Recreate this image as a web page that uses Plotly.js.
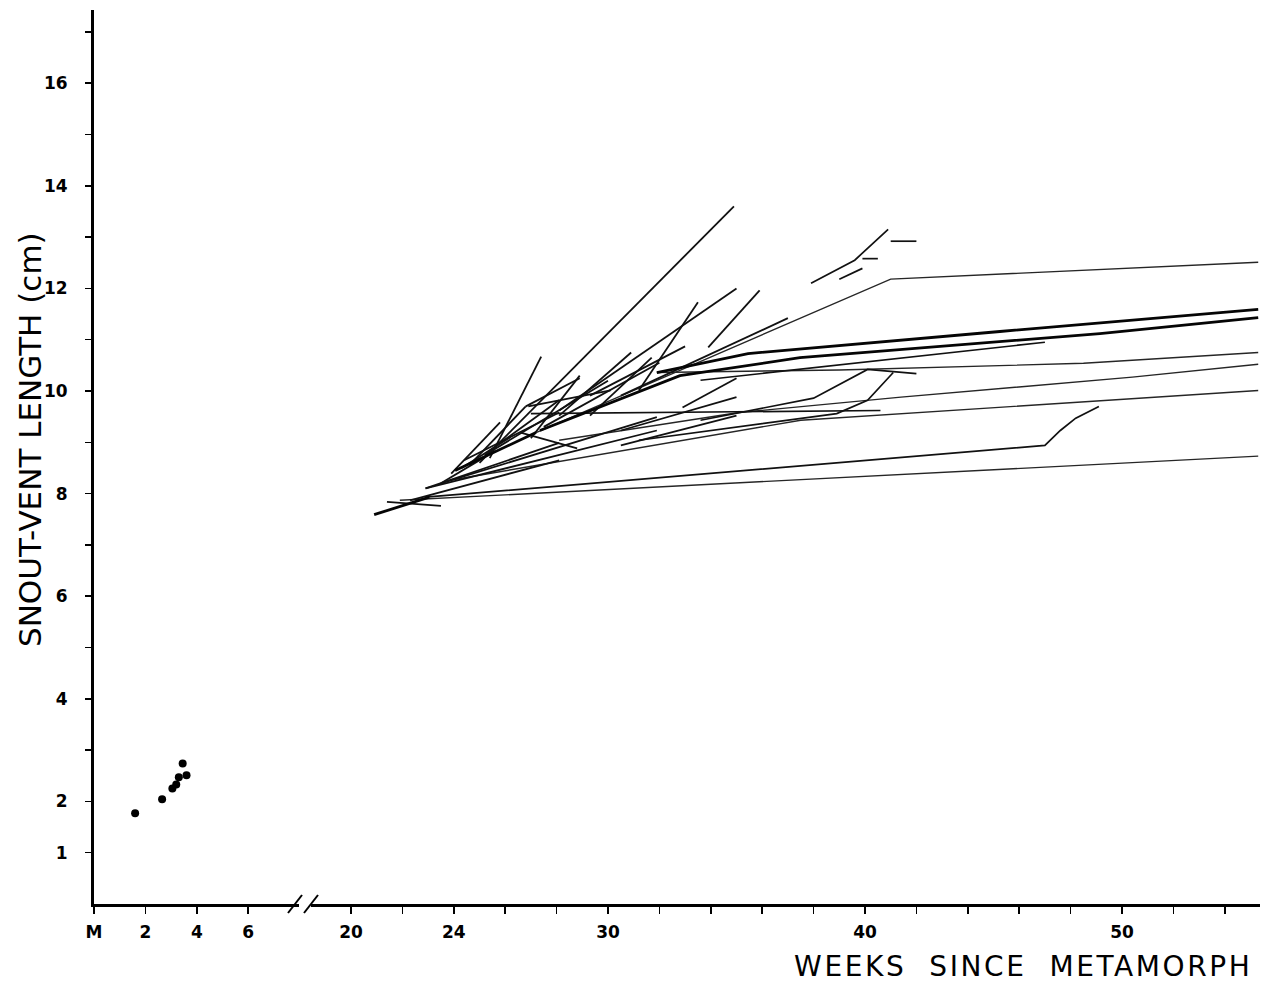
<!DOCTYPE html>
<html>
<head>
<meta charset="utf-8">
<script src="https://cdn.plot.ly/plotly-3.0.1.min.js"></script>
<style>
  html, body { margin: 0; padding: 0; background: #fff; }
  #chart { width: 1271px; height: 984px; }
</style>
</head>
<body>
<div id="chart"></div>
<script>
// Snout-vent length (cm) against weeks since metamorphosis.
// The week axis is broken between 8 and 20 weeks.

// Juveniles measured in the first weeks after metamorphosis
const juvenileWeeks = [1.6, 2.65, 3.05, 3.2, 3.3, 3.45, 3.6];
const juvenileSVL   = [1.77, 2.04, 2.25, 2.33, 2.47, 2.74, 2.51];

// Individuals followed to the end of the record (about week 55)
const longWeeks = [
  [27.2, 41.0, 55.3],
  [31.9, 39.0, 48.5, 55.3],
  [28.1, 35.1, 41.4, 50.4, 55.3],
  [23.85, 37.5, 55.3],
  [21.9, 55.3]
];
const longSVL = [
  [9.19, 12.18, 12.51],
  [10.36, 10.41, 10.54, 10.75],
  [9.04, 9.58, 9.88, 10.27, 10.52],
  [8.26, 9.43, 10.01],
  [7.87, 8.73]
];

// Heavily recaptured individuals (overlapping records, drawn heavier)
const heavyWeeks = [
  [31.9, 35.45, 45.25, 55.3],
  [27.35, 32.8, 37.47, 49.14, 55.3],
  [24.05, 27.2],
  [20.9, 23.05]
];
const heavySVL = [
  [10.36, 10.73, 11.16, 11.59],
  [9.23, 10.30, 10.65, 11.12, 11.43],
  [8.45, 9.19],
  [7.59, 7.93]
];

// Individuals last seen between weeks 37 and 50
const midWeeks = [
  [22.9, 47.0, 47.6, 48.2, 49.1],
  [33.6, 47.0],
  [27.0, 40.6],
  [33.6, 38.0, 40.1, 42.0],
  [31.2, 38.9, 40.1, 41.1],
  [37.9, 39.6, 40.9],
  [39.0, 39.9],
  [39.9, 40.5],
  [41.0, 42.0]
];
const midSVL = [
  [7.93, 8.94, 9.23, 9.47, 9.70],
  [10.21, 10.95],
  [9.56, 9.62],
  [9.43, 9.86, 10.42, 10.34],
  [9.04, 9.56, 9.82, 10.36],
  [12.10, 12.55, 13.15],
  [12.18, 12.39],
  [12.58, 12.58],
  [12.92, 12.92]
];

// Short records between weeks 21 and 37
const shortWeeks = [
  [25.0, 34.9], [25.4, 27.4], [23.9, 25.8], [27.0, 28.9], [28.1, 30.9],
  [29.3, 31.7], [29.3, 33.0], [31.2, 33.5], [28.1, 35.0], [33.9, 35.9],
  [30.5, 37.0], [26.6, 28.8], [26.9, 30.1], [22.9, 31.9], [23.5, 31.9],
  [23.5, 25.3], [30.5, 35.0], [30.5, 35.0], [32.9, 35.0], [24.4, 28.1],
  [25.3, 28.1], [22.9, 28.1], [22.3, 28.1], [21.4, 23.5],
  [24.6, 26.8], [25.2, 30.0], [27.5, 32.0], [26.8, 28.9], [24.3, 26.2]
];
const shortSVL = [
  [8.60, 13.60], [8.69, 10.67], [8.39, 9.39], [9.08, 10.30], [9.52, 10.75],
  [9.52, 10.65], [9.91, 10.87], [10.01, 11.73], [9.62, 12.00], [10.85, 11.96],
  [9.91, 11.42], [9.19, 8.88], [9.70, 10.01], [8.10, 9.23], [8.20, 9.49],
  [8.20, 8.74], [9.23, 9.88], [8.94, 9.52], [9.68, 10.25], [8.65, 9.58],
  [8.80, 9.82], [8.10, 8.99], [7.87, 8.65], [7.84, 7.76],
  [8.55, 9.70], [8.75, 10.20], [9.30, 10.55], [9.70, 10.25], [8.50, 9.10]
];

// Axis ticks
const weekTicks  = [0, 2, 4, 6, 20, 22, 24, 26, 28, 30, 32, 34, 36, 38, 40, 42, 44, 46, 48, 50, 52, 54];
const weekLabels = ['M', '2', '4', '6', '20', '', '24', '', '', '30', '', '', '', '', '40', '', '', '', '', '50', '', ''];
const svlTicks   = [1, 2, 3, 4, 5, 6, 7, 8, 9, 10, 11, 12, 13, 14, 15, 16, 17];
const svlLabels  = ['1', '2', '', '4', '', '6', '', '8', '', '10', '', '12', '', '14', '', '16', ''];

// Weeks 8-20 are cut out of the axis
const GAP = 10;
const toAxis = w => (w >= 10 ? w - GAP : w);

const ink = '#111';
const traces = [];

function addTracks(weeks, svl, width, color) {
  weeks.forEach((ws, i) => {
    traces.push({
      type: 'scatter', mode: 'lines',
      x: ws.map(toAxis), y: svl[i],
      line: { color: color, width: width },
      hoverinfo: 'skip', showlegend: false
    });
  });
}

addTracks(longWeeks, longSVL, 1.4, '#262626');
addTracks(midWeeks, midSVL, 1.7, ink);
addTracks(shortWeeks, shortSVL, 1.8, ink);
addTracks(heavyWeeks, heavySVL, 2.8, '#050505');

traces.push({
  type: 'scatter', mode: 'markers',
  x: juvenileWeeks.map(toAxis), y: juvenileSVL,
  marker: { color: '#000', size: 8 },
  hoverinfo: 'skip', showlegend: false
});

const plotW = 1271 - 94 - 11;
const plotH = 984 - 10 - 80;
const pxPerWeek = 25.7;
const pxPerCm = 51.3;

const tickFont = { family: 'DejaVu Sans', size: 17, color: '#000', weight: 'bold' };

const layout = {
  width: 1271, height: 984,
  margin: { l: 94, r: 11, t: 10, b: 80 },
  paper_bgcolor: '#fff', plot_bgcolor: '#fff',
  showlegend: false,
  xaxis: {
    range: [0, plotW / pxPerWeek],
    tickmode: 'array',
    tickvals: weekTicks.map(toAxis),
    ticktext: weekLabels,
    ticks: 'outside', ticklen: 7, tickwidth: 1.5, tickcolor: '#000',
    ticklabelstandoff: 4,
    showline: true, linecolor: '#000', linewidth: 3,
    showgrid: false, zeroline: false,
    tickfont: tickFont
  },
  yaxis: {
    range: [0, plotH / pxPerCm],
    tickmode: 'array',
    tickvals: svlTicks,
    ticktext: svlLabels,
    ticks: 'outside', ticklen: 6, tickwidth: 1.5, tickcolor: '#000',
    ticklabelstandoff: 14,
    showline: true, linecolor: '#000', linewidth: 3,
    showgrid: false, zeroline: false,
    tickfont: tickFont
  },
  shapes: [
    // gap in the week axis
    { type: 'line', xref: 'paper', yref: 'paper',
      x0: (299 - 94) / plotW, x1: (311 - 94) / plotW, y0: 0, y1: 0,
      line: { color: '#fff', width: 6 } },
    // break marks
    { type: 'line', xref: 'paper', yref: 'paper',
      x0: (288 - 94) / plotW, x1: (302 - 94) / plotW,
      y0: -9 / plotH, y1: 9 / plotH,
      line: { color: '#000', width: 2 } },
    { type: 'line', xref: 'paper', yref: 'paper',
      x0: (304 - 94) / plotW, x1: (318 - 94) / plotW,
      y0: -9 / plotH, y1: 9 / plotH,
      line: { color: '#000', width: 2 } }
  ],
  annotations: [
    { text: 'SNOUT-VENT LENGTH (cm)', xref: 'paper', yref: 'paper',
      x: (30 - 94) / plotW, y: (904 - 440) / plotH,
      xanchor: 'center', yanchor: 'middle', textangle: -90, showarrow: false,
      font: { family: 'DejaVu Sans', size: 31, color: '#000' } },
    { text: 'WEEKS  SINCE  METAMORPH', xref: 'paper', yref: 'paper',
      x: (1023 - 94) / plotW, y: (904 - 966) / plotH,
      xanchor: 'center', yanchor: 'middle', showarrow: false,
      font: { family: 'DejaVu Sans', size: 28, color: '#000' } }
  ]
};

Plotly.newPlot('chart', traces, layout, { staticPlot: true, displayModeBar: false })
  .then(gd => {
    // widen the lettering of the week-axis caption
    gd.querySelectorAll('.annotation-text').forEach(t => {
      if (t.textContent.indexOf('WEEKS') === 0) t.style.letterSpacing = '2.6px';
    });
  });
</script>
</body>
</html>
